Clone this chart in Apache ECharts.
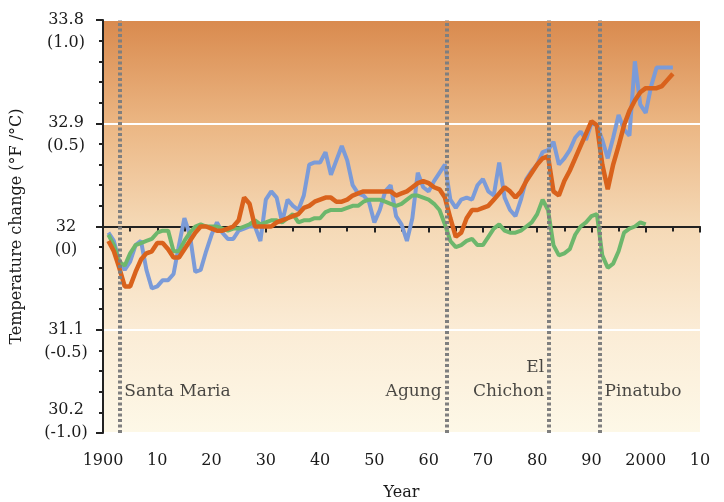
<!DOCTYPE html>
<html>
<head>
<meta charset="utf-8">
<script src="https://cdn.jsdelivr.net/npm/echarts@6/dist/echarts.min.js"></script>
<style>
html,body{margin:0;padding:0;background:#ffffff;}
#chart{width:724px;height:502px;}
</style>
</head>
<body>
<div id="chart"></div>
<script>
// ---- data (temperature anomalies in °C) ----
const startYear = 1901;
const observed = [
 -0.03,-0.07,-0.17,-0.21,-0.17,-0.09,-0.07,-0.21,-0.30,-0.29,
 -0.26,-0.26,-0.23,-0.09,0.04,-0.04,-0.22,-0.21,-0.12,-0.04,
 0.02,-0.03,-0.06,-0.06,-0.02,-0.01,0.00,0.00,-0.07,0.13,
 0.17,0.14,0.02,0.13,0.10,0.08,0.15,0.30,0.31,0.31,
 0.36,0.25,0.32,0.39,0.32,0.20,0.16,0.15,0.12,0.02,
 0.08,0.17,0.20,0.05,0.01,-0.07,0.04,0.26,0.19,0.17,
 0.22,0.26,0.30,0.13,0.09,0.13,0.14,0.13,0.20,0.23,
 0.17,0.15,0.31,0.14,0.08,0.05,0.13,0.23,0.27,0.30,
 0.36,0.37,0.41,0.30,0.33,0.37,0.43,0.46,0.42,0.50,
 0.49,0.42,0.33,0.43,0.54,0.47,0.44,0.80,0.59,0.55,
 0.68,0.77,0.77,0.77,0.77
];
const modelAll = [
 -0.07,-0.12,-0.20,-0.29,-0.29,-0.22,-0.16,-0.13,-0.12,-0.08,
 -0.08,-0.11,-0.15,-0.15,-0.11,-0.07,-0.03,0.00,0.00,-0.01,
 -0.02,-0.02,-0.01,0.00,0.03,0.14,0.11,0.00,0.00,0.00,
 0.00,0.02,0.03,0.04,0.05,0.06,0.09,0.10,0.12,0.13,
 0.14,0.14,0.12,0.12,0.13,0.15,0.16,0.17,0.17,0.17,
 0.17,0.17,0.17,0.15,0.16,0.17,0.19,0.21,0.22,0.21,
 0.19,0.18,0.14,0.04,-0.05,-0.03,0.04,0.08,0.08,0.09,
 0.10,0.13,0.16,0.19,0.17,0.14,0.17,0.22,0.26,0.30,
 0.33,0.34,0.17,0.15,0.22,0.27,0.33,0.39,0.45,0.51,
 0.49,0.30,0.18,0.30,0.39,0.49,0.56,0.61,0.65,0.67,
 0.67,0.67,0.68,0.71,0.74
];
const modelNatural = [
 -0.04,-0.09,-0.17,-0.19,-0.13,-0.09,-0.08,-0.07,-0.06,-0.03,
 -0.02,-0.02,-0.12,-0.12,-0.07,-0.03,0.00,0.01,0.00,0.00,
 0.00,-0.01,-0.02,-0.01,-0.01,0.00,0.01,0.03,0.01,0.02,
 0.03,0.03,0.02,0.04,0.06,0.02,0.03,0.03,0.04,0.04,
 0.07,0.08,0.08,0.08,0.09,0.10,0.10,0.12,0.13,0.13,
 0.13,0.12,0.11,0.10,0.11,0.13,0.15,0.15,0.14,0.13,
 0.11,0.08,0.01,-0.07,-0.10,-0.09,-0.07,-0.06,-0.09,-0.09,
 -0.05,-0.01,0.01,-0.02,-0.03,-0.03,-0.02,0.00,0.02,0.06,
 0.13,0.08,-0.09,-0.14,-0.13,-0.11,-0.04,0.00,0.02,0.05,
 0.06,-0.14,-0.20,-0.18,-0.12,-0.03,-0.01,0.00,0.02,0.01
];
const eruptionYears = [1903, 1963.3, 1982.2, 1991.5];
const eruptionNames = ['Santa Maria', 'Agung', 'El\nChichon', 'Pinatubo'];
const eruptionLabelY = [-0.8, -0.8, -0.74, -0.8];
const eruptionLabelSide = ['right', 'left', 'left', 'right'];
const xTickLabels = ['1900','10','20','30','40','50','60','70','80','90','2000','10'];
const yTickLabelsF = ['30.2','31.1','32','32.9','33.8'];
const yTickLabelsC = ['(-1.0)','(-0.5)','(0)','(0.5)','(1.0)'];

const toPairs = arr => arr.map((v, i) => [startYear + i, v]);

const serif = 'DejaVu Serif';
const textColor = '#1a1a1a';

const chart = echarts.init(document.getElementById('chart'));
chart.setOption({
  animation: false,
  backgroundColor: '#ffffff',
  grid: {
    left: 103, right: 24, top: 20, bottom: 69,
    outerBoundsMode: 'none',
    containLabel: false,
    show: true,
    borderWidth: 0,
    backgroundColor: new echarts.graphic.LinearGradient(0, 0, 0, 1, [
      {offset: 0, color: '#d98a4e'},
      {offset: 0.25, color: '#ebb683'},
      {offset: 0.5, color: '#f5d9b6'},
      {offset: 0.75, color: '#fbecd6'},
      {offset: 1, color: '#fdf8e7'}
    ])
  },
  xAxis: {
    type: 'value',
    min: 1900, max: 2010, interval: 10,
    name: 'Year',
    nameLocation: 'middle',
    nameGap: 52,
    nameTextStyle: {fontFamily: serif, fontSize: 16, color: textColor},
    axisLine: {show: true, lineStyle: {color: '#222', width: 2}},
    axisTick: {show: true, length: 6, lineStyle: {color: '#222', width: 2}},
    minorTick: {show: true, splitNumber: 2, length: 5, lineStyle: {color: '#222', width: 2}},
    splitLine: {show: false},
    axisLabel: {
      fontFamily: serif, fontSize: 16, color: textColor, margin: 20,
      formatter: v => xTickLabels[Math.round((v - 1900) / 10)]
    }
  },
  yAxis: {
    type: 'value',
    min: -1, max: 1, interval: 0.5,
    name: 'Temperature change (°F /°C)',
    nameLocation: 'middle',
    nameGap: 78,
    nameRotate: 90,
    nameTextStyle: {fontFamily: serif, fontSize: 16, color: textColor},
    axisLine: {show: true, lineStyle: {color: '#222', width: 2}},
    axisTick: {show: true, length: 7, lineStyle: {color: '#222', width: 2}},
    minorTick: {show: true, splitNumber: 5, length: 4, lineStyle: {color: '#222', width: 2}},
    splitLine: {show: true, lineStyle: {color: '#ffffff', width: 2}},
    axisLabel: {
      fontFamily: serif, fontSize: 16, color: textColor,
      align: 'center', verticalAlign: 'middle', lineHeight: 23, margin: 37,
      formatter: v => {
        const i = Math.round((v + 1) / 0.5);
        if (i === 0) return yTickLabelsF[i] + '\n' + yTickLabelsC[i] + '\n ';
        return ' \n' + yTickLabelsF[i] + '\n' + yTickLabelsC[i];
      }
    }
  },
  series: [
    {
      type: 'line', data: [], z: 1, silent: true,
      markLine: {
        silent: true, symbol: ['none', 'none'],
        label: {show: false},
        lineStyle: {color: '#7f7f7f', width: 4, type: [3, 2.5]},
        data: eruptionYears.map(y => ({xAxis: y}))
      }
    },
    {
      name: 'Observed', type: 'line', data: toPairs(observed), z: 2,
      symbol: 'none', lineStyle: {color: '#7b9bd8', width: 4}
    },
    {
      name: 'Natural', type: 'line', data: toPairs(modelNatural), z: 3,
      symbol: 'none', lineStyle: {color: '#6db76c', width: 4}
    },
    {
      name: 'All forcings', type: 'line', data: toPairs(modelAll), z: 4,
      symbol: 'none', lineStyle: {color: '#d9621c', width: 4.5}
    },
    {
      type: 'scatter', z: 5, silent: true, symbolSize: 0,
      data: eruptionYears.map((y, i) => ({
        value: [y, eruptionLabelY[i]],
        label: {position: eruptionLabelSide[i], formatter: eruptionNames[i]}
      })),
      label: {
        show: true, distance: 5,
        fontFamily: serif, fontSize: 17, color: textColor, lineHeight: 24
      }
    }
  ]
});
</script>
</body>
</html>
